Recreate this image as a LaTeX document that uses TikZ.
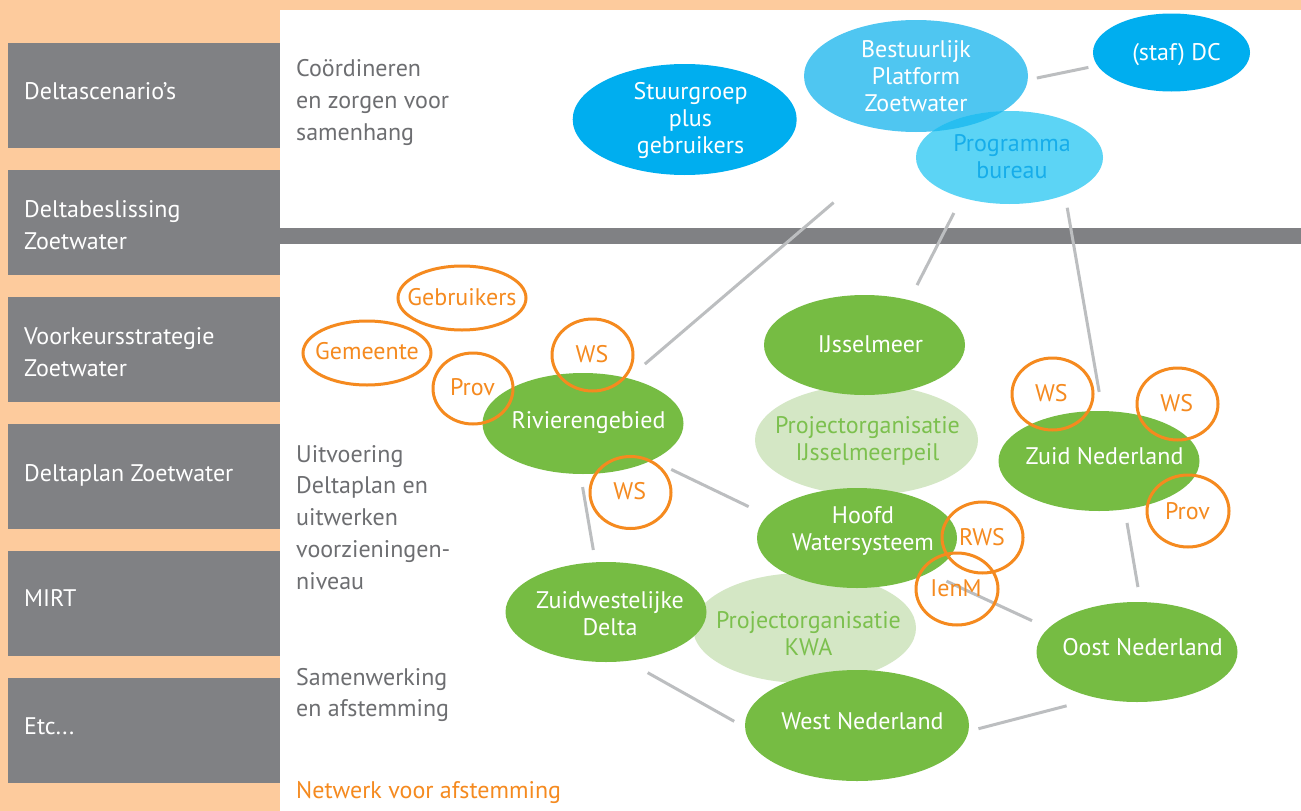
\documentclass[tikz,border=0pt]{standalone}
\usepackage{fontspec}
\setmainfont{PT Sans}
\usetikzlibrary{shapes.geometric}
\definecolor{peach}{HTML}{FDCB9D}
\definecolor{boxgray}{HTML}{808184}
\definecolor{txtgray}{HTML}{6D6E71}
\definecolor{orng}{HTML}{F58A1F}
\definecolor{grn}{HTML}{76BC43}
\definecolor{palegrn}{HTML}{D4E7C5}
\definecolor{paletxt}{HTML}{7CC04E}
\definecolor{dblue}{HTML}{00AEEF}
\definecolor{bpblue}{HTML}{4FC6F1}
\definecolor{progblue}{HTML}{5CD4F5}
\definecolor{ovlblue}{HTML}{27BEF0}
\definecolor{progtxt}{HTML}{16ADEA}
\definecolor{lnk}{HTML}{BCBEC0}
\newcommand\fsE{\fontsize{24}{27}\selectfont}
\newcommand\fsL{\fontsize{24}{31.7}\selectfont}
\tikzset{
  bx/.style={rectangle, fill=boxgray, minimum width=272pt, minimum height=105pt, inner sep=0pt, outer sep=0pt, anchor=north west},
  bxt/.style={anchor=base west, align=left, inner sep=0pt, text=white, font=\fsL},
  side/.style={anchor=base west, align=left, inner sep=0pt, text=txtgray, font=\fsL},
  ell/.style={ellipse, inner sep=0pt, outer sep=0pt},
  gell/.style={ellipse, inner sep=0pt, outer sep=0pt, fill=grn, minimum width=201pt, minimum height=100pt},
  pell/.style={ellipse, inner sep=0pt, outer sep=0pt, fill=palegrn, minimum width=223pt, minimum height=110pt},
  org/.style={ellipse, inner sep=0pt, outer sep=0pt, draw=orng, line width=3pt},
  ws/.style={org, minimum width=81pt, minimum height=72pt},
  lbl/.style={anchor=base, align=center, inner sep=0pt, font=\fsE},
  wlbl/.style={lbl, text=white},
  olbl/.style={lbl, text=orng},
  conn/.style={draw=lnk, line width=3pt},
}
\begin{document}
\begin{tikzpicture}[x=1pt, y=-1pt]
\useasboundingbox (0,0) rectangle (1301,811);
% background panels
\fill[peach] (0,0) rectangle (1301,811);
\fill[white] (280,10) rectangle (1301,228);
\fill[boxgray] (280,228) rectangle (1301,244);
\fill[white] (280,244) rectangle (1301,811);
% left boxes
\node[bx] (b1) at (8,43) {};
\node[bx] (b2) at (8,170) {};
\node[bx] (b3) at (8,297) {};
\node[bx] (b4) at (8,424) {};
\node[bx] (b5) at (8,551) {};
\node[bx] (b6) at (8,678) {};
% (multi-line texts are placed by the baseline of their last line)
\node[bxt] (b1t) at (24,99) {Deltascenario’s};
\node[bxt] (b2t) at (24,249) {Deltabeslissing\\Zoetwater};
\node[bxt] (b3t) at (24,376) {Voorkeursstrategie\\Zoetwater};
\node[bxt] (b4t) at (24,481) {Deltaplan Zoetwater};
\node[bxt] (b5t) at (24,606.5) {MIRT};
\node[bxt] (b6t) at (24,734) {Etc...};
% side texts
\node[side] (s1) at (296,140) {Coördineren\\en zorgen voor\\samenhang};
\node[side] (s2) at (296,589) {Uitvoering\\Deltaplan en\\uitwerken\\voorzieningen-\\niveau};
\node[side] (s3) at (296,716.7) {Samenwerking\\en afstemming};
\node[side, text=orng] (s4) at (296,798.3) {Netwerk voor afstemming};
% top ellipses
\node[ell, fill=dblue, minimum width=224pt, minimum height=111pt] (stuur) at (684.7,119.5) {};
\node[ell, fill=bpblue, minimum width=224pt, minimum height=112pt] (bp) at (916,76) {};
\node[ell, fill=dblue, minimum width=157pt, minimum height=78pt] (dc) at (1171.5,52.5) {};
\node[ell, fill=progblue, minimum width=187pt, minimum height=93pt] (prog) at (1009.5,157.5) {};
\begin{scope}
  \clip (916,76) ellipse [x radius=112pt, y radius=56pt];
  \fill[ovlblue] (1009.5,157.5) ellipse [x radius=93.5pt, y radius=46.5pt];
\end{scope}
% pale project ellipses
\node[pell] (ijsp) at (866.5,440) {};
\node[pell] (kwa) at (804.5,628) {};
% green ellipses
\node[gell] (ijs) at (864.5,345) {};
\node[gell, minimum height=101pt] (riv) at (583,423.5) {};
\node[gell, minimum width=200pt] (hoofd) at (857,538) {};
\node[gell] (zwd) at (606,612) {};
\node[gell, minimum width=224pt, minimum height=111pt] (west) at (857,725.5) {};
\node[gell] (zuid) at (1099,461) {};
\node[gell] (oost) at (1137,652) {};
% connectors
\draw[conn, shorten <=22pt, shorten >=108.5pt] (riv.45) -- (bp.south);
\draw[conn, shorten <=17.4pt, shorten >=17pt] (prog.220) -- (ijs.45);
\draw[conn, shorten <=13pt, shorten >=19.4pt] (prog.-34) -- (zuid.86);
\draw[conn, shorten <=21.3pt, shorten >=21pt] (riv.-28) -- (hoofd.166);
\draw[conn, shorten <=13.3pt, shorten >=12.5pt] (riv.-93) -- (zwd.102);
\draw[conn, shorten <=13.8pt, shorten >=15.2pt] (zuid.-62) -- (oost.86);
\draw[conn, shorten <=19.7pt, shorten >=18.2pt] (hoofd.-26) -- (oost.165);
\draw[conn, shorten <=24pt, shorten >=12.5pt] (zwd.-67) -- (west.181);
\draw[conn, shorten <=10.4pt, shorten >=31.5pt] (west.-3) -- (oost.-131);
\draw[conn, shorten <=9.3pt, shorten >=9.3pt] (bp.-2) -- (dc.190);
% orange partner circles
\node[org, minimum width=128pt, minimum height=64pt] (geb) at (462,298) {};
\node[org, minimum width=128pt, minimum height=64pt] (gem) at (367,353) {};
\node[ws, minimum width=80pt, minimum height=71pt] (provl) at (473,388.5) {};
\node[ws] (ws1) at (592.5,355) {};
\node[ws] (ws2) at (630.5,492.5) {};
\node[ws, minimum height=71pt] (rws) at (982.5,537.5) {};
\node[ws, minimum width=82pt] (ienm) at (957,589) {};
\node[ws] (ws3) at (1052.5,394) {};
\node[ws] (ws4) at (1177.5,404) {};
\node[ws, minimum width=82pt] (provr) at (1188,511) {};
% labels of the top ellipses
\node[wlbl] (stuurt) at (690.5,153.3) {Stuurgroep\\plus\\gebruikers};
\node[wlbl] (bpt) at (916,111) {Bestuurlijk\\Platform\\Zoetwater};
\node[wlbl] (dct) at (1176.5,60) {(staf) DC};
\node[lbl, text=progtxt] (progt) at (1012,178) {Programma\\bureau};
% labels of the green ellipses
\node[lbl, text=paletxt] (ijspt) at (867.5,460) {Projectorganisatie\\IJsselmeerpeil};
\node[lbl, text=paletxt] (kwat) at (808.5,655) {Projectorganisatie\\KWA};
\node[wlbl] (ijst) at (870.5,352) {IJsselmeer};
\node[wlbl] (rivt) at (588.5,428) {Rivierengebied};
\node[wlbl] (hoofdt) at (863,550) {Hoofd\\Watersysteem};
\node[wlbl] (zwdt) at (610,635.7) {Zuidwestelijke\\Delta};
\node[wlbl] (westt) at (862.5,729.3) {West Nederland};
\node[wlbl] (zuidt) at (1104.5,464.3) {Zuid Nederland};
\node[wlbl] (oostt) at (1142.5,655) {Oost Nederland};
% labels of the orange circles
\node[olbl] (gebt) at (462,305) {Gebruikers};
\node[olbl] (gemt) at (367,359.3) {Gemeente};
\node[olbl] (provlt) at (472.5,395.7) {Prov};
\node[olbl] (ws1t) at (592,362.3) {WS};
\node[olbl] (ws2t) at (629.7,499.3) {WS};
\node[olbl] (rwst) at (982,545) {RWS};
\node[olbl] (ienmt) at (956,596.7) {IenM};
\node[olbl] (ws3t) at (1051.3,401.7) {WS};
\node[olbl] (ws4t) at (1176.7,411.7) {WS};
\node[olbl] (provrt) at (1187.5,519) {Prov};
\end{tikzpicture}
\end{document}
